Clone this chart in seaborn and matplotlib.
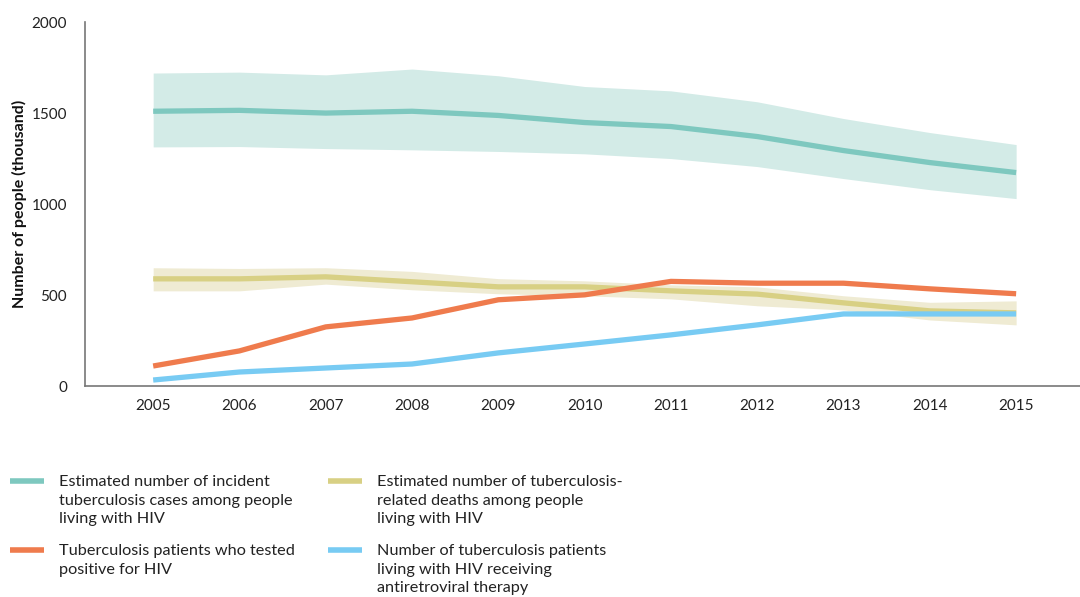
import numpy as np
import pandas as pd
import matplotlib
matplotlib.use("Agg")
import matplotlib.pyplot as plt
import seaborn as sns

years = [2005, 2006, 2007, 2008, 2009, 2010, 2011, 2012, 2013, 2014, 2015]

incident = [1510, 1515, 1500, 1510, 1487, 1448, 1426, 1371, 1294, 1228, 1173]
incident_hi = [1720, 1725, 1710, 1742, 1705, 1646, 1622, 1562, 1470, 1393, 1327]
incident_lo = [1314, 1316, 1305, 1298, 1289, 1276, 1250, 1206, 1140, 1079, 1030]

deaths = [589, 589, 600, 573, 545, 545, 523, 505, 457, 413, 402]
deaths_hi = [650, 646, 650, 630, 590, 578, 556, 545, 496, 460, 468]
deaths_lo = [523, 523, 560, 529, 507, 496, 479, 441, 418, 363, 336]

tested = [110, 193, 325, 374, 474, 501, 575, 565, 565, 534, 507]
art = [33, 77, 99, 121, 182, 231, 281, 336, 396, 396, 396]

labels = [
    "Estimated number of incident\ntuberculosis cases among people\nliving with HIV",
    "Estimated number of tuberculosis-\nrelated deaths among people\nliving with HIV",
    "Tuberculosis patients who tested\npositive for HIV",
    "Number of tuberculosis patients\nliving with HIV receiving\nantiretroviral therapy",
]
colors = ["#7ec8bf", "#d8d084", "#ef7b4d", "#78cbf3"]
band_colors = ["#d3ebe7", "#efebd3"]

sns.set_theme(style="white")
plt.rcParams["font.family"] = ["Lato", "DejaVu Sans"]
plt.rcParams["lines.solid_capstyle"] = "butt"
plt.rcParams["lines.solid_joinstyle"] = "round"

df = pd.DataFrame({
    "year": years * 4,
    "value": incident + deaths + tested + art,
    "series": sum([[l] * len(years) for l in labels], []),
})

fig = plt.figure(figsize=(10.8, 5.97), dpi=100)
ax = fig.add_axes([0.0787, 0.3534, 0.9213, 0.6096])

ax.fill_between(years, incident_lo, incident_hi, color=band_colors[0], lw=0, zorder=1)
ax.fill_between(years, deaths_lo, deaths_hi, color=band_colors[1], lw=0, zorder=1)

sns.lineplot(data=df, x="year", y="value", hue="series", hue_order=labels,
             palette=colors, linewidth=3.8, ax=ax, legend=False, zorder=3)
for ln in ax.lines:
    ln.set_solid_capstyle("butt")

ax.set_xlim(2004.21, 2015.74)
ax.set_ylim(0, 2000)
ax.set_xticks(years)
ax.set_xticklabels([str(y) for y in years])
ax.set_yticks([0, 500, 1000, 1500, 2000])
ax.tick_params(axis="both", labelsize=11, colors="#222222", length=0)
ax.tick_params(axis="x", pad=9)
ax.tick_params(axis="y", pad=13)
ax.set_xlabel("")
ax.set_ylabel("Number of people (thousand)", fontsize=11.5, fontweight="bold",
              color="#111111", labelpad=3)
for s in ["top", "right"]:
    ax.spines[s].set_visible(False)
for s in ["left", "bottom"]:
    ax.spines[s].set_color("#777777")
    ax.spines[s].set_linewidth(1.2)

# legend (manual, two columns)
W, H = 1080, 597
pos = [(10, 481), (328, 481), (10, 550), (328, 550)]
for (px, py), lab, c in zip(pos, labels, colors):
    fig.add_artist(plt.Line2D([px / W, (px + 34) / W], [1 - py / H, 1 - py / H],
                              color=c, linewidth=4, solid_capstyle="butt",
                              transform=fig.transFigure))
    fig.text((px + 49) / W, 1 - (py - 6) / H, lab, fontsize=11.7, color="#222222",
             va="top", ha="left", linespacing=1.42)

fig.savefig("out.png", dpi=100)
